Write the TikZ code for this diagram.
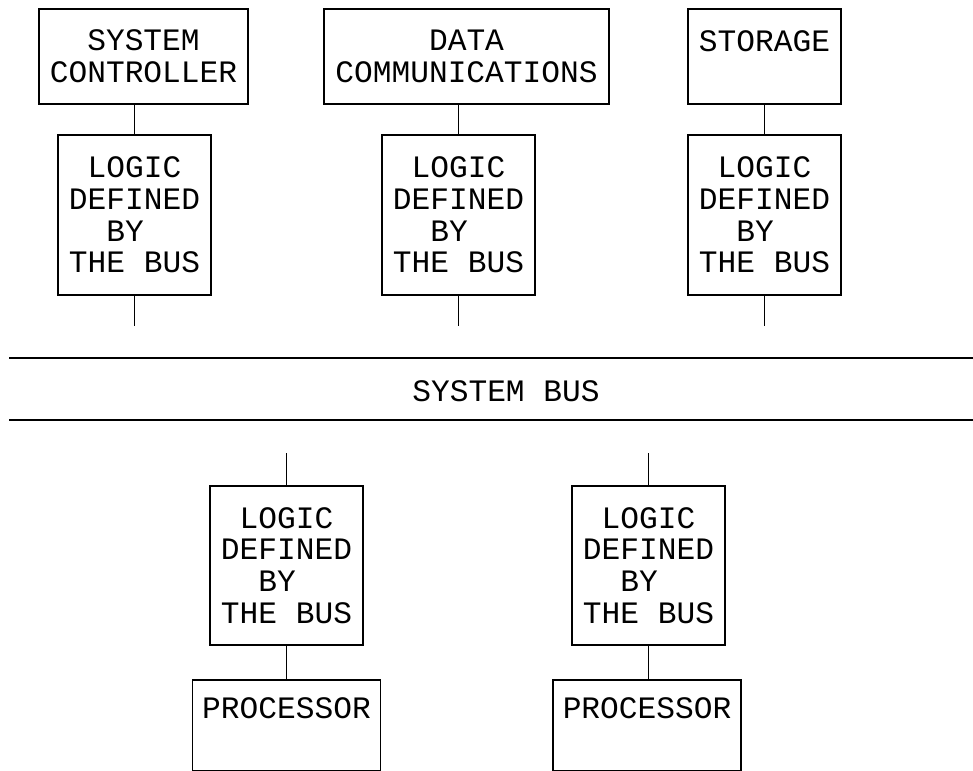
\documentclass[tikz,border=0pt]{standalone}
\usepackage{fontspec}
\setmonofont{Liberation Mono}
\usetikzlibrary{calc}
\begin{document}
\begin{tikzpicture}[x=1pt,y=-1pt,
  txt/.style={font=\ttfamily\fontsize{31.2}{31.8}\selectfont, inner sep=0pt},
  box/.style={txt, draw, line width=1.8pt, align=center},
  lbox/.style={txt, draw, line width=1.8pt, align=left, minimum width=153pt, minimum height=160pt},
  ln/.style={line width=1.6pt}]
\useasboundingbox (0,0) rectangle (973,770);
\clip (0,0) rectangle (973,770);
% top row
\node[box, minimum width=209pt, minimum height=95pt] (sc) at (143.5,56.5) {SYSTEM\\CONTROLLER};
\node[box, minimum width=285pt, minimum height=95pt] (dc) at (466.5,56.5) {DATA\\COMMUNICATIONS};
\node[box, minimum width=153pt, minimum height=95pt] (st) at (764.5,56.5) {STORAGE\\\phantom{X}};
\node[lbox] (l1) at (134.5,215) {\phantom{X}LOGIC\\DEFINED\\\phantom{XX}BY\\THE BUS};
\node[lbox] (l2) at (458.5,215) {\phantom{X}LOGIC\\DEFINED\\\phantom{XX}BY\\THE BUS};
\node[lbox] (l3) at (764.5,215) {\phantom{X}LOGIC\\DEFINED\\\phantom{XX}BY\\THE BUS};
\draw[ln] (sc.south -| l1.north) -- (l1.north);
\draw[ln] (dc.south -| l2.north) -- (l2.north);
\draw[ln] (st.south -| l3.north) -- (l3.north);
\coordinate (s1) at (134.5,326);
\coordinate (s2) at (458.5,326);
\coordinate (s3) at (764.5,326);
\draw[ln] (l1.south) -- (s1);
\draw[ln] (l2.south) -- (s2);
\draw[ln] (l3.south) -- (s3);
% bus
\coordinate (bt1) at (9,358);
\coordinate (bt2) at (973,358);
\coordinate (bb1) at (9,420);
\coordinate (bb2) at (973,420);
\draw[line width=1.8pt] (bt1) -- (bt2);
\draw[line width=1.8pt] (bb1) -- (bb2);
\node[txt] (bus) at (506,391) {SYSTEM BUS};
% bottom row
\node[lbox, minimum height=159pt] (b1) at (286.5,565.5) {\phantom{X}LOGIC\\DEFINED\\\phantom{XX}BY\\THE BUS};
\node[lbox, minimum height=159pt] (b2) at (648.5,565.5) {\phantom{X}LOGIC\\DEFINED\\\phantom{XX}BY\\THE BUS};
\coordinate (t1) at (286.5,453);
\coordinate (t2) at (648.5,453);
\draw[ln] (t1) -- (b1.north);
\draw[ln] (t2) -- (b2.north);
\node[box, minimum width=188pt, minimum height=91pt, anchor=north] (p1) at (286.5,679) {};
\node[box, minimum width=188pt, minimum height=91pt, anchor=north] (p2) at (647,679) {};
\node[txt, anchor=base] (p1t) at ($(p1.north)+(0,39)$) {PROCESSOR};
\node[txt, anchor=base] (p2t) at ($(p2.north)+(0,39)$) {PROCESSOR};
\draw[ln] (b1.south) -- (b1.south |- p1.north);
\draw[ln] (b2.south) -- (b2.south |- p2.north);
\end{tikzpicture}
\end{document}
